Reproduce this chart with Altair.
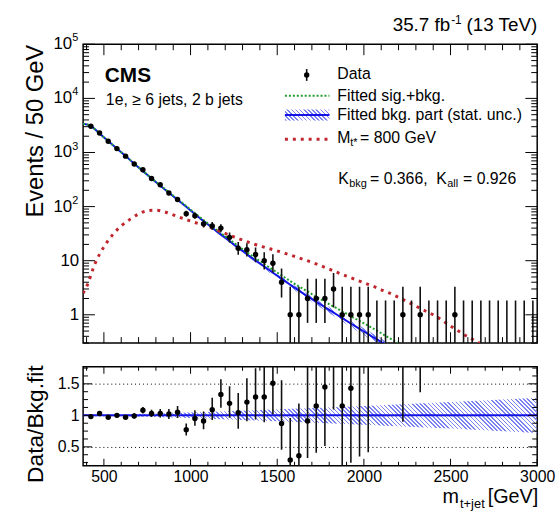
import math
import pandas as pd
import altair as alt

FONT = "Liberation Sans"
W, H1, H2 = 459, 302, 100
XMIN, XMAX = 380, 3000
Y1MIN, Y1MAX = 0.3, 1e5
Y2MIN, Y2MAX = 0.2, 1.77

BLUE = "#1414e6"
GREEN = "#1f9e2a"
RED = "#c0262d"
HATCH = "#7a82f2"
CLEAR = "rgba(255,255,255,0)"

# ---------------- data ----------------
bin_center = [425, 475, 525, 575, 625, 675, 725, 775, 825, 875,
              925, 975, 1025, 1075, 1125, 1175, 1225, 1275, 1325, 1375,
              1425, 1475, 1525, 1575, 1625, 1675, 1725, 1775, 1825, 1875,
              1925, 1975, 2025, 2075, 2125, 2175, 2225, 2275, 2325, 2375,
              2425, 2475, 2525, 2575, 2625, 2675, 2725, 2775, 2825, 2875,
              2925, 2975]
data_counts = [3050, 2300, 1610, 1180, 856, 611, 481, 330, 253, 178,
               135, 74, 68, 48, 44, 40, 27, 17, 16, 13,
               10, 9, 4, 1, 1, 2, 2, 2, 3, 1,
               1, 1, 1, 0, 0, 0, 1, 0, 1, 0,
               0, 0, 1, 0, 0, 0, 0, 0, 0, 0,
               0, 0]
ratio_vals = [0.98, 1.03, 0.97, 1.00, 0.97, 0.99, 1.08, 1.03, 1.03, 1.02,
              1.05, 0.77, 0.95, 0.91, 1.09, 1.33, 1.19, 1.04, 1.21, 1.29,
              1.29, 1.51, 0.87, 0.29, 0.36, 0.91, 1.15, 1.45, 2.40, 1.15,
              1.43, 2.00, 2.40, 0, 0, 0, 5.2, 0, 7.9, 0,
              0, 0, 14.0, 0, 0, 0, 0, 0, 0, 0,
              0, 0]

bkg_m = [380, 425, 475, 525, 575, 625, 675, 725, 775, 825,
         875, 925, 975, 1025, 1075, 1125, 1175, 1225, 1275, 1325,
         1375, 1425, 1475, 1525, 1575, 1625, 1675, 1725, 1775, 1825,
         1875, 1925, 1975, 2025, 2075, 2125]
bkg_val = [3390, 3090, 2240, 1630, 1180, 860, 620, 452, 330, 243,
           180, 134, 99, 73, 54, 40.5, 30.5, 23, 17.4, 13.2,
           10.1, 7.8, 6.0, 4.65, 3.6, 2.8, 2.2, 1.74, 1.38, 1.1,
           0.87, 0.69, 0.55, 0.44, 0.35, 0.28]
bkg_unc = [0.010, 0.010, 0.011, 0.012, 0.013, 0.015, 0.017, 0.019, 0.022, 0.026,
           0.031, 0.036, 0.041, 0.047, 0.052, 0.057, 0.062, 0.067, 0.072, 0.077,
           0.082, 0.087, 0.092, 0.097, 0.102, 0.107, 0.112, 0.117, 0.123, 0.129,
           0.135, 0.140, 0.145, 0.150, 0.155, 0.160]

sb_m = [380, 425, 475, 525, 575, 625, 675, 725, 775, 825,
        875, 925, 975, 1025, 1075, 1125, 1175, 1225, 1275, 1325,
        1375, 1425, 1475, 1525, 1575, 1625, 1675, 1725, 1775, 1825,
        1875, 1925, 1975, 2025, 2075, 2125, 2175, 2225]
sb_val = [3390, 3090, 2241, 1631, 1182, 862, 624, 456, 334, 247,
          184, 137.5, 102, 75.5, 56.3, 42.5, 32.3, 24.5, 18.7, 14.3,
          11.1, 8.7, 6.8, 5.35, 4.2, 3.35, 2.7, 2.15, 1.75, 1.42,
          1.16, 0.94, 0.77, 0.63, 0.51, 0.41, 0.33, 0.27]

sig_m = [380, 400, 450, 500, 550, 600, 650, 700, 750, 800,
         850, 900, 950, 1000, 1050, 1100, 1150, 1200, 1250, 1300,
         1350, 1400, 1450, 1500, 1550, 1600, 1650, 1700, 1750, 1800,
         1850, 1900, 1950, 2000, 2050, 2100, 2150, 2200, 2250, 2300,
         2350, 2400, 2450, 2500, 2550, 2600, 2650, 2700]
sig_val = [2.5, 3.3, 9, 18, 30, 44, 58, 73, 84, 86,
           80, 70, 61, 54, 48, 43, 37, 32, 27.5, 24,
           21, 18.8, 16.8, 15.2, 13.5, 12, 10.6, 9.3, 8.1, 7.0,
           6.0, 5.2, 4.5, 3.9, 3.4, 2.9, 2.5, 2.1, 1.75, 1.45,
           1.2, 1.0, 0.8, 0.62, 0.49, 0.39, 0.32, 0.26]

band_m = [380, 500, 750, 1000, 1250, 1500, 1750, 2000, 2250, 2500, 2750, 3000]
band_w = [0.010, 0.011, 0.021, 0.044, 0.070, 0.095, 0.120, 0.148, 0.180, 0.210, 0.245, 0.280]

x_major = [500, 1000, 1500, 2000, 2500, 3000]
x_minor = [v for v in range(400, 3001, 100) if v % 500]
y1_major = [1, 10, 100, 1000, 10000, 100000]
y1_minor = [k * 10 ** d for d in range(-1, 5) for k in range(2, 10) if Y1MIN <= k * 10 ** d <= Y1MAX]
y2_major = [0.5, 1.0, 1.5]
y2_minor = [0.25, 0.375, 0.625, 0.75, 0.875, 1.125, 1.25, 1.375, 1.625, 1.75]
plain_labels = ["1", "10"]
exp_labels = ["2", "3", "4", "5"]

# ---------------- derived tables ----------------
GARWOOD = {0: (0.0, 1.841), 1: (0.173, 3.300), 2: (0.708, 4.638), 3: (1.367, 5.918),
           4: (2.086, 7.163), 5: (2.840, 8.382), 6: (3.620, 9.584), 7: (4.419, 10.77),
           8: (5.232, 11.95), 9: (6.057, 13.11), 10: (6.891, 14.27)}


def garwood(n):
    if n in GARWOOD:
        return GARWOOD[n]
    s = math.sqrt(n)
    return (n - s, n + s + 1.0)


rows = []
for m, n, r in zip(bin_center, data_counts, ratio_vals):
    lo, hi = garwood(n)
    row = {"m": m, "n": n, "lo": lo if lo > 0 else 0.01, "hi": hi}
    if n > 0:
        row.update({"r": r, "rlo": r * lo / n, "rhi": r * hi / n})
    rows.append(row)
data_df = pd.DataFrame(rows)
dots_df = data_df[data_df.n > 0]

bkg_df = pd.DataFrame({"m": bkg_m, "v": bkg_val, "u": bkg_unc})
bkg_df["lo"] = bkg_df.v * (1 - bkg_df.u)
bkg_df["hi"] = bkg_df.v * (1 + bkg_df.u)
sb_df = pd.DataFrame({"m": sb_m, "v": sb_val})
sig_df = pd.DataFrame({"m": sig_m, "v": sig_val})
band_df = pd.DataFrame({"m": band_m, "w": band_w})
band_df["lo"] = 1 - band_df.w
band_df["hi"] = 1 + band_df.w


def hatch_fill(wb, hb, period=4.2, stripe=1.6):
    r = hb / wb
    k = (1 + r) / (1 + r * r)
    ext = wb + hb
    stops = []
    for i in range(int(math.ceil(ext / period))):
        a = i * period / ext
        b = min((i * period + stripe) / ext, 1.0)
        c = min((i + 1) * period / ext, 1.0)
        stops += [{"offset": a, "color": HATCH}, {"offset": b, "color": HATCH},
                  {"offset": b, "color": CLEAR}, {"offset": c, "color": CLEAR}]
    return {"gradient": "linear", "x1": 0, "y1": 1, "x2": k, "y2": 1 - k * r, "stops": stops}


def px_x(m):
    return (m - XMIN) / (XMAX - XMIN) * W


def px_y1(v):
    return H1 * (math.log10(Y1MAX) - math.log10(v)) / (math.log10(Y1MAX) - math.log10(Y1MIN))


up_wb = px_x(max(bkg_m)) - px_x(min(bkg_m))
up_hb = px_y1(bkg_df.lo.min()) - px_y1(bkg_df.hi.max())
ratio_hb = (band_df.hi.max() - band_df.lo.min()) * H2 / (Y2MAX - Y2MIN)

XS = alt.Scale(domain=[XMIN, XMAX], nice=False, zero=False)
Y1S = alt.Scale(type="log", domain=[Y1MIN, Y1MAX], nice=False)
Y2S = alt.Scale(domain=[Y2MIN, Y2MAX], nice=False, zero=False)

# identical axis definitions for every layer of a panel, so that they merge
AX_UP_Y = alt.Axis(
    title="Events / 50 GeV", labels=False, ticks=False, domain=False, grid=False,
    titleX=-48, titleY=0, titleAngle=-90, titleAlign="right", titleBaseline="middle",
    titleFontSize=24, titleFont=FONT, titleFontWeight="normal", titleColor="black")
AX_LO_X = alt.Axis(
    values=x_major, format="d", ticks=False, tickSize=0, domain=False, grid=False,
    labelPadding=3, labelFontSize=16, labelFont=FONT, labelColor="black",
    labelFlush=False, labelOverlap=False, title=None)
AX_LO_Y = alt.Axis(
    values=y2_major, ticks=False, tickSize=0, domain=False,
    grid=True, gridDash=[1, 3], gridColor="black", gridWidth=1, gridOpacity=1,
    labelExpr="datum.value == 1 ? '1' : format(datum.value, '.1f')",
    labelPadding=4, labelFontSize=16, labelFont=FONT, labelColor="black", labelFlush=False,
    title="Data/Bkg.fit", titleX=-48, titleY=-2, titleAngle=-90, titleAlign="right",
    titleBaseline="middle", titleFontSize=23, titleFont=FONT, titleFontWeight="normal",
    titleColor="black")

ONE = pd.DataFrame({"a": [1]})


def XU(f):
    return alt.X(f"{f}:Q", scale=XS, axis=None)


def XL(f):
    return alt.X(f"{f}:Q", scale=XS, axis=AX_LO_X)


def Y1(f):
    return alt.Y(f"{f}:Q", scale=Y1S, axis=AX_UP_Y)


def Y2(f):
    return alt.Y(f"{f}:Q", scale=Y2S, axis=AX_LO_Y)


def text_at(txt, x, y, size=16, align="left", weight="normal"):
    return alt.Chart(ONE).mark_text(
        text=txt, x=x, y=y, fontSize=size, align=align, baseline="middle",
        fontWeight=weight, font=FONT, color="black").encode(text=alt.value(txt))


def ticks_x(vals, length, height, XF):
    df = pd.DataFrame({"v": vals})
    base = alt.Chart(df).mark_rule(color="black", strokeWidth=1)
    return [base.encode(x=XF("v"), y=alt.value(height), y2=alt.value(height - length)),
            base.encode(x=XF("v"), y=alt.value(0), y2=alt.value(length))]


def ticks_y(vals, length, YF):
    df = pd.DataFrame({"v": vals})
    base = alt.Chart(df).mark_rule(color="black", strokeWidth=1)
    return [base.encode(y=YF("v"), x=alt.value(0), x2=alt.value(length)),
            base.encode(y=YF("v"), x=alt.value(W), x2=alt.value(W - length))]


# ---------------- upper panel ----------------
up_band = alt.Chart(bkg_df).mark_area(clip=True, fill=hatch_fill(up_wb, up_hb), interpolate="monotone").encode(
    x=XU("m"), y=Y1("lo"), y2="hi:Q")
up_bkg = alt.Chart(bkg_df).mark_line(clip=True, color=BLUE, strokeWidth=2, interpolate="monotone").encode(
    x=XU("m"), y=Y1("v"))
up_sb = alt.Chart(sb_df).mark_line(clip=True, color=GREEN, strokeWidth=2, strokeDash=[2, 2],
                                   interpolate="monotone").encode(x=XU("m"), y=Y1("v"))
up_sig = alt.Chart(sig_df).mark_line(clip=True, color=RED, strokeWidth=3, strokeDash=[3, 5],
                                     interpolate="monotone").encode(x=XU("m"), y=Y1("v"))
up_err = alt.Chart(data_df).mark_rule(clip=True, color="#111111", strokeWidth=1.6).encode(
    x=XU("m"), y=Y1("lo"), y2="hi:Q")
up_dots = alt.Chart(dots_df).mark_circle(clip=True, color="black", opacity=1, size=30).encode(
    x=XU("m"), y=Y1("n"))

plain_df = pd.DataFrame({"v": [1, 10], "t": plain_labels})
exp_df = pd.DataFrame({"v": [100, 1000, 10000, 100000], "t": exp_labels})
lab_plain = alt.Chart(plain_df).mark_text(align="right", baseline="middle", x=-4, fontSize=17,
                                          font=FONT, color="black").encode(y=Y1("v"), text="t:N")
lab_base = alt.Chart(exp_df).mark_text(align="right", baseline="middle", x=-11, fontSize=17, text="10",
                                       font=FONT, color="black").encode(y=Y1("v"), text=alt.value("10"))
lab_exp = alt.Chart(exp_df).mark_text(align="left", baseline="middle", x=-11, dy=-6, fontSize=11,
                                      font=FONT, color="black").encode(y=Y1("v"), text="t:N")

anchor = alt.Chart(ONE).mark_rule(opacity=0, strokeWidth=0).encode(
    x=alt.value(-83), x2=alt.value(-82), y=alt.value(-41), y2=alt.value(-41))

leg = [
    alt.Chart(ONE).mark_rule(color="#111111", strokeWidth=1.6).encode(
        x=alt.value(226), y=alt.value(25), y2=alt.value(37)),
    alt.Chart(ONE).mark_circle(color="black", opacity=1, size=30).encode(x=alt.value(226), y=alt.value(31)),
    alt.Chart(ONE).mark_rule(color=GREEN, strokeWidth=2, strokeDash=[2, 2]).encode(
        x=alt.value(204), x2=alt.value(249), y=alt.value(52)),
    alt.Chart(ONE).mark_rect(fill=hatch_fill(45, 11)).encode(
        x=alt.value(204), x2=alt.value(249), y=alt.value(66), y2=alt.value(77)),
    alt.Chart(ONE).mark_rule(color=BLUE, strokeWidth=2).encode(
        x=alt.value(204), x2=alt.value(249), y=alt.value(71.5)),
    alt.Chart(ONE).mark_rule(color=RED, strokeWidth=3, strokeDash=[3, 5]).encode(
        x=alt.value(204), x2=alt.value(249), y=alt.value(96)),
    text_at("Data", 257, 30),
    text_at("Fitted sig.+bkg.", 257, 52),
    text_at("Fitted bkg. part (stat. unc.)", 257, 72),
    text_at("M", 257, 95),
    text_at("t*", 270, 100, size=11),
    text_at("= 800 GeV", 280, 95),
    text_at("K", 258, 136),
    text_at("bkg", 269, 141, size=11),
    text_at("= 0.366,", 290, 136),
    text_at("K", 357, 136),
    text_at("all", 368, 141, size=11),
    text_at("= 0.926", 384, 136),
    text_at("CMS", 22, 32, size=21, weight="bold"),
    text_at("1e, \u2265 6 jets, 2 b jets", 23, 56),
    text_at("35.7 fb", 371, -19, size=19, align="right"),
    text_at("-1", 372, -25, size=12),
    text_at("(13 TeV)", 459, -19, size=19, align="right"),
]

upper = alt.layer(
    up_band, up_bkg, up_sb, up_sig, up_err, up_dots,
    *ticks_x(x_major, 11, H1, XU), *ticks_x(x_minor, 6, H1, XU),
    *ticks_y(y1_major, 12, Y1), *ticks_y(y1_minor, 6, Y1),
    lab_plain, lab_base, lab_exp, anchor, *leg,
).properties(width=W, height=H1)

# ---------------- ratio panel ----------------
lo_band = alt.Chart(band_df).mark_area(clip=True, fill=hatch_fill(W, ratio_hb)).encode(
    x=XL("m"), y=Y2("lo"), y2="hi:Q")
one_line = alt.Chart(pd.DataFrame({"r": [1.0]})).mark_rule(color=BLUE, strokeWidth=2).encode(y=Y2("r"))
lo_err = alt.Chart(dots_df).mark_rule(clip=True, color="#111111", strokeWidth=1.6).encode(
    x=XL("m"), y=Y2("rlo"), y2="rhi:Q")
lo_dots = alt.Chart(dots_df).mark_circle(clip=True, color="black", opacity=1, size=30).encode(
    x=XL("m"), y=Y2("r"))

xtitle = [
    text_at("m", 380, 132, size=20, align="right"),
    text_at("t+jet", 381, 139, size=13),
    text_at("[GeV]", 460, 132, size=20, align="right"),
]

lower = alt.layer(
    lo_band, one_line, lo_err, lo_dots,
    *ticks_x(x_major, 7, H2, XL), *ticks_x(x_minor, 4, H2, XL),
    *ticks_y(y2_major, 9, Y2), *ticks_y(y2_minor, 5, Y2),
    *xtitle,
).properties(width=W, height=H2)

chart = alt.vconcat(upper, lower, spacing=24, bounds="flush").properties(
    padding=0, background="white"
).configure_view(stroke="black", strokeWidth=1.5).configure_axis(
    labelFont=FONT, titleFont=FONT, labelColor="black", titleColor="black")

chart.save("out.html", embed_options={"renderer": "svg", "actions": False})
